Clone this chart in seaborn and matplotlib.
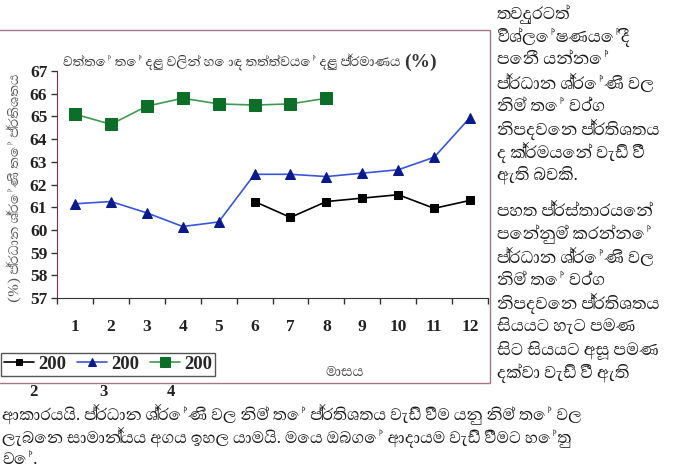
import pandas as pd
import seaborn as sns
import matplotlib.pyplot as plt
from matplotlib import font_manager as fm
from matplotlib.patches import Rectangle

months = list(range(1, 13))
y2002_months = [6, 7, 8, 9, 10, 11, 12]
y2002 = [61.25, 60.55, 61.25, 61.4, 61.55, 60.95, 61.3]
y2003_months = months
y2003 = [61.15, 61.25, 60.75, 60.15, 60.35, 62.45, 62.45, 62.35, 62.5, 62.65, 63.2, 64.95]
y2004_months = [1, 2, 3, 4, 5, 6, 7, 8]
y2004 = [65.1, 64.65, 65.45, 65.8, 65.55, 65.5, 65.55, 65.8]
legend_labels = ['200', '200', '200']
legend_tails = ['2', '3', '4']

title = 'වත්තේ තේ දළු වලින් හොඳ තත්ත්වයේ දළු ප්‍රමාණය'
ylabel = '(%) ප්‍රධාන ශ්‍රේණි තේ ප්‍රතිශතය'
xlabel = 'මාසය'
right_col = ['තවදුරටත්', 'විශ්ලේෂණයේදී', 'පෙනී යන්නේ', 'ප්‍රධාන ශ්‍රේණි වල',
             'නිම් තේ වර්ග', 'නිපදවෙන ප්‍රතිශතය', 'ද ක්‍රමයෙන් වැඩි වී', 'ඇති බවකි.',
             'පහත ප්‍රස්තාරයෙන්', 'පෙන්නුම් කරන්නේ', 'ප්‍රධාන ශ්‍රේණි වල', 'නිම් තේ වර්ග',
             'නිපදවෙන ප්‍රතිශතය', 'සියයට හැට පමණ', 'සිට සියයට අසූ පමණ', 'දක්වා වැඩි වී ඇති']
bottom_lines = ['ආකාරයයි. ප්‍රධාන ශ්‍රේණි වල නිම් තේ ප්‍රතිශතය වැඩි වීම යනු නිම් තේ වල',
                'ලැබෙන සාමාන්‍යය අගය ඉහල යාමයි. මෙය ඔබගේ ආදායම වැඩි වීමට හේතු',
                'වේ.']

sns.set_style('white')
names = {f.name for f in fm.fontManager.ttflist}
preferred = ['Abhaya Libre', 'Noto Serif Sinhala', 'Noto Sans Sinhala', 'Yaldevi Colombo', 'Gemunu Libre']
sin = next((n for n in preferred if n in names), 'DejaVu Sans')
sin_family = [sin, 'DejaVu Sans']
plt.rcParams['font.family'] = sin_family

fig = plt.figure(figsize=(6.82, 4.72), dpi=100)
ax = fig.add_axes([0.0836, 0.3686, 0.632, 0.481])

d02 = pd.DataFrame({'month': y2002_months, 'value': y2002})
d03 = pd.DataFrame({'month': y2003_months, 'value': y2003})
d04 = pd.DataFrame({'month': y2004_months, 'value': y2004})

sns.lineplot(data=d02, x='month', y='value', ax=ax, color='black', lw=1.2,
             marker='s', markersize=6, markeredgecolor='black')
sns.lineplot(data=d03, x='month', y='value', ax=ax, color='#3a55d8', lw=1.2,
             marker='^', markersize=7, markerfacecolor='#0a1a8a', markeredgecolor='#0a1a8a')
sns.lineplot(data=d04, x='month', y='value', ax=ax, color='#3f9a4f', lw=1.2,
             marker='s', markersize=9, markerfacecolor='#0d6e2a', markeredgecolor='#0d6e2a')

ax.set_xlim(0.5, 12.5)
ax.set_ylim(57, 67)
ax.set_yticks(range(57, 68))
ax.set_xticks(months)
ax.set_xticks([m + 0.5 for m in range(0, 13)], minor=True)
ax.tick_params(axis='x', which='major', length=0, pad=15)
ax.tick_params(axis='x', which='minor', length=4, width=1, color='#333333', direction='out', bottom=True)
ax.tick_params(axis='y', length=4, width=1, color='#333333', direction='out', left=True, pad=3)
for lab in ax.get_xticklabels() + ax.get_yticklabels():
    lab.set_family('Liberation Serif')
    lab.set_fontweight('bold')
    lab.set_fontsize(12.5)
    lab.set_color('#222222')
ax.set_xlabel('')
ax.set_ylabel('')
for s in ['top', 'right']:
    ax.spines[s].set_visible(False)
ax.spines['left'].set_color('#7a3050')
ax.spines['bottom'].set_color('#333333')

# chart title, axis labels
fig.text(63 / 682, 1 - 62 / 472, title, fontsize=12.3, color='#333333', va='center', ha='left')
fig.text(404 / 682, 1 - 62 / 472, '(%)', fontsize=14, color='#333333', va='center', ha='left',
         family='Liberation Serif', fontweight='bold')
fig.text(14 / 682, 1 - 188 / 472, ylabel, fontsize=12.5, color='#555555', rotation=90,
         va='center', ha='center')
fig.text(345 / 682, 1 - 372 / 472, xlabel, fontsize=13, color='#444444', va='center', ha='center')

# chart frame
fig.add_artist(Rectangle((-0.01, 1 - 383 / 472), 490 / 682 + 0.01, (383 - 30) / 472,
                         transform=fig.transFigure, fill=False, ec='#a07888', lw=1))

# legend
leg = fig.legend(ax.get_lines()[:3], legend_labels, ncol=3, loc='lower left',
                 bbox_to_anchor=(-0.012, 1 - 385 / 472), frameon=True, fancybox=False,
                 edgecolor='#555555', framealpha=1, handlelength=1.6, handletextpad=0.2,
                 columnspacing=0.6, borderpad=0.15, markerscale=0.8,
                 prop={'family': 'Liberation Serif', 'weight': 'bold', 'size': 13.5})
leg.get_frame().set_linewidth(1)
for txt, xp in zip(legend_tails, [33, 104, 171]):
    fig.text(xp / 682, 1 - 392 / 472, txt, fontsize=12, family='Liberation Serif',
             fontweight='bold', color='#222222', va='center', ha='center')

# page text
ys_right = [14, 37, 60, 83, 106, 129, 152, 175, 211, 234, 257, 280, 303, 326, 350, 373]
for txt, yp in zip(right_col, ys_right):
    fig.text(497 / 682, 1 - yp / 472, txt, fontsize=15.5, color='#1a1a1a', va='center', ha='left')
for txt, yp in zip(bottom_lines, [414, 437, 459]):
    fig.text(2 / 682, 1 - yp / 472, txt, fontsize=15, color='#1a1a1a', va='center', ha='left')

fig.savefig('out.png', dpi=100)
